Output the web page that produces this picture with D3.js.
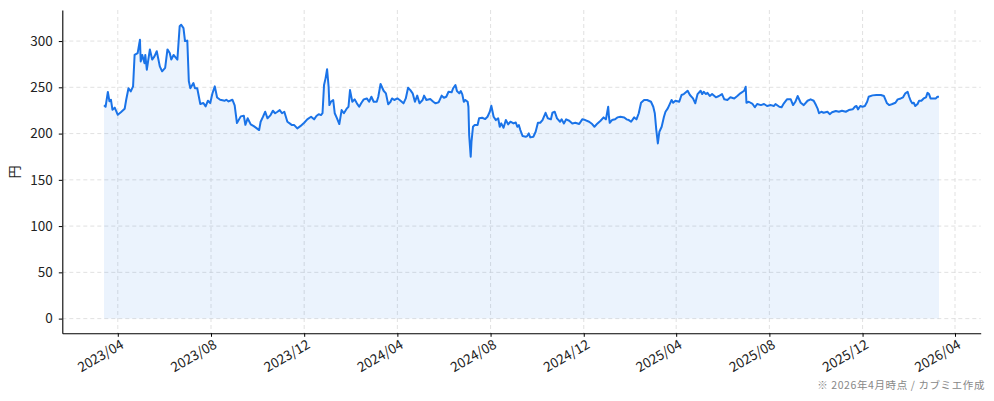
<!DOCTYPE html>
<html>
<head>
<meta charset="utf-8">
<script src="https://cdn.jsdelivr.net/npm/d3@7"></script>
<style>
  body { margin: 0; background: #fff; }
  svg { display: block; font-family: "Noto Sans CJK JP", "Noto Sans", sans-serif; }
</style>
</head>
<body>
<svg id="chart"></svg>
<script>
// closing price (円)
const prices2023 = [
  ['2023-03-14', 230.5], ['2023-03-16', 229], ['2023-03-19', 245], ['2023-03-21', 235], ['2023-03-23', 236.6],
  ['2023-03-25', 225.8], ['2023-03-28', 228], ['2023-04-01', 220.3], ['2023-04-05', 223], ['2023-04-10', 226.8],
  ['2023-04-12', 236.6], ['2023-04-15', 249], ['2023-04-18', 245.6], ['2023-04-21', 251], ['2023-04-23', 285],
  ['2023-04-27', 287], ['2023-04-30', 301.5], ['2023-05-01', 278], ['2023-05-03', 285], ['2023-05-06', 276],
  ['2023-05-07', 285], ['2023-05-09', 269], ['2023-05-13', 291], ['2023-05-16', 280], ['2023-05-19', 283.5],
  ['2023-05-22', 289], ['2023-05-26', 272.7], ['2023-05-29', 267.3], ['2023-06-02', 271], ['2023-06-05', 291],
  ['2023-06-08', 287], ['2023-06-10', 280], ['2023-06-13', 285], ['2023-06-18', 280], ['2023-06-21', 316],
  ['2023-06-23', 317.7], ['2023-06-26', 314], ['2023-06-28', 300], ['2023-07-01', 300.5], ['2023-07-03', 256.5],
  ['2023-07-05', 249], ['2023-07-09', 254.6], ['2023-07-11', 249], ['2023-07-14', 249], ['2023-07-18', 232],
  ['2023-07-22', 233], ['2023-07-25', 229.4], ['2023-07-28', 235.5], ['2023-07-31', 233], ['2023-08-03', 243.8],
  ['2023-08-06', 251], ['2023-08-09', 239], ['2023-08-13', 236.6], ['2023-08-19', 235.5], ['2023-08-21', 236.6],
  ['2023-08-24', 234.8], ['2023-08-29', 236.6], ['2023-09-01', 230.5], ['2023-09-04', 211.4], ['2023-09-09', 218.6],
  ['2023-09-13', 219.3], ['2023-09-15', 209.5], ['2023-09-18', 216.5], ['2023-09-22', 210], ['2023-09-26', 208],
  ['2023-09-30', 205.6], ['2023-10-03', 203.8], ['2023-10-05', 212.8], ['2023-10-08', 218], ['2023-10-11', 223.6],
  ['2023-10-14', 216.5], ['2023-10-18', 220], ['2023-10-21', 224.7], ['2023-10-24', 222], ['2023-10-27', 223.6],
  ['2023-10-30', 225.4], ['2023-11-02', 222], ['2023-11-05', 223.6], ['2023-11-09', 212.8], ['2023-11-12', 211],
  ['2023-11-15', 209.2], ['2023-11-18', 209.2], ['2023-11-22', 205.6], ['2023-11-26', 208], ['2023-12-01', 211.7],
  ['2023-12-05', 215.4], ['2023-12-10', 218.2], ['2023-12-14', 215.4], ['2023-12-17', 219], ['2023-12-20', 221],
  ['2023-12-23', 220], ['2023-12-25', 222], ['2023-12-27', 252.5], ['2023-12-29', 259.7], ['2023-12-31', 269.5]
];
const prices2024 = [
  ['2024-01-02', 250.6], ['2024-01-03', 230.8], ['2024-01-05', 234.4], ['2024-01-08', 236.3], ['2024-01-10', 222],
  ['2024-01-13', 216.5], ['2024-01-16', 210.3], ['2024-01-19', 225.4], ['2024-01-22', 222], ['2024-01-26', 227.3],
  ['2024-01-28', 229], ['2024-01-30', 247], ['2024-02-02', 234.4], ['2024-02-05', 237], ['2024-02-08', 232.7],
  ['2024-02-11', 229], ['2024-02-14', 233.3], ['2024-02-17', 237], ['2024-02-21', 238], ['2024-02-24', 234.4],
  ['2024-02-27', 239.8], ['2024-03-01', 234.4], ['2024-03-05', 234.4], ['2024-03-07', 239.8], ['2024-03-10', 253.6],
  ['2024-03-14', 246.3], ['2024-03-17', 243.5], ['2024-03-20', 231.6], ['2024-03-23', 234.4], ['2024-03-25', 238],
  ['2024-03-28', 236.3], ['2024-04-01', 238], ['2024-04-04', 236.3], ['2024-04-09', 232.7], ['2024-04-12', 238],
  ['2024-04-15', 249.6], ['2024-04-18', 247], ['2024-04-21', 243.5], ['2024-04-24', 234.4], ['2024-04-27', 241],
  ['2024-04-30', 232.7], ['2024-05-04', 236.3], ['2024-05-06', 241], ['2024-05-09', 236.3], ['2024-05-14', 237.3],
  ['2024-05-18', 234.4], ['2024-05-21', 232.7], ['2024-05-25', 233.8], ['2024-05-29', 241], ['2024-06-01', 238.7],
  ['2024-06-04', 239.8], ['2024-06-07', 245.2], ['2024-06-11', 244.6], ['2024-06-13', 249], ['2024-06-16', 252.5],
  ['2024-06-18', 246], ['2024-06-21', 243.5], ['2024-06-23', 246], ['2024-06-25', 242.4], ['2024-06-27', 234.4],
  ['2024-06-29', 236.3], ['2024-07-02', 234.4], ['2024-07-03', 229], ['2024-07-04', 198.4], ['2024-07-06', 175],
  ['2024-07-07', 191], ['2024-07-09', 207.4], ['2024-07-11', 209.2], ['2024-07-15', 209.2], ['2024-07-17', 216.5],
  ['2024-07-21', 217.1], ['2024-07-25', 215.7], ['2024-07-28', 218.2], ['2024-07-31', 223.6], ['2024-08-02', 230],
  ['2024-08-05', 218.2], ['2024-08-08', 214.6], ['2024-08-11', 216.5], ['2024-08-13', 207.4], ['2024-08-15', 211],
  ['2024-08-18', 206.3], ['2024-08-21', 214.6], ['2024-08-24', 210], ['2024-08-27', 212.8], ['2024-08-31', 211],
  ['2024-09-03', 212], ['2024-09-05', 207.4], ['2024-09-07', 209.2], ['2024-09-09', 203.8], ['2024-09-12', 197.3],
  ['2024-09-16', 196.6], ['2024-09-18', 197.3], ['2024-09-20', 200.2], ['2024-09-22', 195.9], ['2024-09-26', 196.6],
  ['2024-09-29', 202], ['2024-10-02', 211.7], ['2024-10-05', 211.7], ['2024-10-08', 214.6], ['2024-10-12', 222.5],
  ['2024-10-15', 216.5], ['2024-10-19', 215.4], ['2024-10-21', 222.5], ['2024-10-24', 223.6], ['2024-10-27', 216.5],
  ['2024-10-31', 212.8], ['2024-11-02', 215.4], ['2024-11-05', 211], ['2024-11-08', 215.4], ['2024-11-12', 213.9],
  ['2024-11-16', 211], ['2024-11-20', 211.7], ['2024-11-25', 210.3], ['2024-11-29', 215.4], ['2024-12-03', 214.6],
  ['2024-12-08', 212.8], ['2024-12-12', 210.3], ['2024-12-15', 207.4], ['2024-12-19', 211], ['2024-12-23', 213.9],
  ['2024-12-27', 217.5], ['2024-12-30', 215.4]
];
const prices2025 = [
  ['2025-01-02', 229], ['2025-01-03', 218.2], ['2025-01-04', 211.7], ['2025-01-07', 214.6], ['2025-01-11', 215.4],
  ['2025-01-14', 217.5], ['2025-01-18', 218.2], ['2025-01-23', 217.5], ['2025-01-26', 215.4], ['2025-01-29', 214.6],
  ['2025-02-01', 212.8], ['2025-02-05', 217.5], ['2025-02-08', 215.4], ['2025-02-11', 222], ['2025-02-14', 233.3],
  ['2025-02-18', 236.3], ['2025-02-22', 236.3], ['2025-02-27', 234.4], ['2025-03-02', 229], ['2025-03-04', 222],
  ['2025-03-06', 203.8], ['2025-03-08', 189.4], ['2025-03-10', 202], ['2025-03-13', 207.4], ['2025-03-16', 218.2],
  ['2025-03-18', 223.6], ['2025-03-21', 227.3], ['2025-03-24', 232.7], ['2025-03-26', 236.3], ['2025-03-28', 233.3],
  ['2025-03-31', 235.5], ['2025-04-05', 234.4], ['2025-04-08', 241.7], ['2025-04-11', 242.7], ['2025-04-16', 246.3],
  ['2025-04-19', 241.7], ['2025-04-23', 238], ['2025-04-26', 232.7], ['2025-04-29', 242.7], ['2025-05-03', 246.3],
  ['2025-05-05', 242.7], ['2025-05-07', 245.2], ['2025-05-10', 242.7], ['2025-05-12', 244], ['2025-05-15', 240.6],
  ['2025-05-18', 242.7], ['2025-05-23', 239.2], ['2025-05-27', 240.6], ['2025-05-31', 242.7], ['2025-06-03', 237],
  ['2025-06-07', 236.3], ['2025-06-11', 239.2], ['2025-06-16', 238], ['2025-06-20', 240.6], ['2025-06-24', 243.5],
  ['2025-06-29', 246.3], ['2025-07-01', 250.6], ['2025-07-02', 233.3], ['2025-07-05', 234.4], ['2025-07-10', 232],
  ['2025-07-13', 228.4], ['2025-07-16', 232], ['2025-07-21', 230.8], ['2025-07-25', 232], ['2025-07-29', 229.8],
  ['2025-08-03', 230.8], ['2025-08-07', 229.8], ['2025-08-09', 232], ['2025-08-14', 229], ['2025-08-17', 228.4],
  ['2025-08-20', 232.7], ['2025-08-24', 237], ['2025-08-29', 237], ['2025-09-01', 230.8], ['2025-09-04', 234.4],
  ['2025-09-07', 240.6], ['2025-09-11', 233.3], ['2025-09-15', 230.8], ['2025-09-20', 235.5], ['2025-09-24', 237],
  ['2025-09-28', 235.5], ['2025-10-01', 230.8], ['2025-10-03', 227.3], ['2025-10-05', 222], ['2025-10-08', 223.6],
  ['2025-10-11', 222.5], ['2025-10-16', 223.6], ['2025-10-19', 221], ['2025-10-22', 223], ['2025-10-27', 224.4],
  ['2025-10-31', 223.6], ['2025-11-04', 224.7], ['2025-11-09', 223.6], ['2025-11-13', 225.4], ['2025-11-18', 226.2],
  ['2025-11-21', 229], ['2025-11-23', 229.8], ['2025-11-25', 226.2], ['2025-11-28', 229.8], ['2025-12-01', 229],
  ['2025-12-04', 229.8], ['2025-12-07', 234.4], ['2025-12-09', 239.8], ['2025-12-14', 241.3], ['2025-12-19', 241.7],
  ['2025-12-25', 241.7], ['2025-12-29', 240.6]
];
const prices2026 = [
  ['2026-01-02', 232.7], ['2026-01-05', 230.8], ['2026-01-09', 232], ['2026-01-13', 233.3], ['2026-01-16', 237],
  ['2026-01-20', 238], ['2026-01-23', 239.2], ['2026-01-26', 243.5], ['2026-01-29', 245.2], ['2026-01-31', 239.8],
  ['2026-02-02', 235.5], ['2026-02-04', 232.7], ['2026-02-06', 233.3], ['2026-02-08', 229.8], ['2026-02-11', 232],
  ['2026-02-13', 235.5], ['2026-02-16', 235.5], ['2026-02-19', 238], ['2026-02-22', 239.2], ['2026-02-24', 244],
  ['2026-02-26', 242.7], ['2026-02-28', 238], ['2026-03-04', 238], ['2026-03-07', 238], ['2026-03-09', 239.8],
  ['2026-03-11', 239.8]
];

const xTickDates = ['2023-04-01', '2023-08-01', '2023-12-01', '2024-04-01', '2024-08-01',
  '2024-12-01', '2025-04-01', '2025-08-01', '2025-12-01', '2026-04-01'];
const yTickValues = [0, 50, 100, 150, 200, 250, 300];
const yLabel = '円';
const footNote = '※ 2026年4月時点 / カブミエ作成';

const width = 994;
const height = 401;
const margin = { top: 10, right: 13.3, bottom: 67.7, left: 62.3 };
const lineColor = '#1a73e8';

const parseDate = d3.timeParse('%Y-%m-%d');
const data = [...prices2023, ...prices2024, ...prices2025, ...prices2026]
	.map((d) => ({ date: parseDate(d[0]), value: d[1] }));

const svg = d3.select('#chart').attr('width', width).attr('height', height);

// matplotlib style 5% padding around the data
const [t0, t1] = d3.extent(data, (d) => d.date);
const pad = (t1 - t0) * 0.05;
const x = d3.scaleTime()
	.domain([new Date(+t0 - pad), new Date(+t1 + pad)])
	.range([margin.left, width - margin.right]);

const yMax = d3.max(data, (d) => d.value);
const y = d3.scaleLinear()
	.domain([-yMax * 0.05, yMax * 1.05])
	.range([height - margin.bottom, margin.top]);

const xTicks = xTickDates.map(parseDate);

// grid
const grid = svg.append('g').attr('stroke', '#d9d9d9').attr('stroke-width', 0.8)
	.attr('stroke-dasharray', '4,3');
grid.selectAll('.vg').data(xTicks).enter().append('line')
	.attr('x1', (d) => x(d)).attr('x2', (d) => x(d))
	.attr('y1', margin.top).attr('y2', height - margin.bottom);
grid.selectAll('.hg').data(yTickValues).enter().append('line')
	.attr('y1', (d) => y(d)).attr('y2', (d) => y(d))
	.attr('x1', margin.left).attr('x2', width - margin.right);

// area + line
const area = d3.area().x((d) => x(d.date)).y0(y(0)).y1((d) => y(d.value));
svg.append('path').datum(data).attr('d', area)
	.attr('fill', lineColor).attr('fill-opacity', 0.085);

const line = d3.line().x((d) => x(d.date)).y((d) => y(d.value));
svg.append('path').datum(data).attr('d', line)
	.attr('fill', 'none').attr('stroke', lineColor).attr('stroke-width', 2)
	.attr('stroke-linejoin', 'round');

// axes
const xAxis = svg.append('g')
	.attr('transform', `translate(0,${height - margin.bottom})`)
	.call(d3.axisBottom(x).tickValues(xTicks).tickFormat(d3.timeFormat('%Y/%m'))
		.tickSize(3.5).tickSizeOuter(0));
xAxis.selectAll('text')
	.attr('text-anchor', 'end')
	.attr('transform', 'translate(0,3) rotate(-30)')
	.attr('dy', '0.72em').attr('y', 3).attr('x', 0);

const yAxis = svg.append('g')
	.attr('transform', `translate(${margin.left},0)`)
	.call(d3.axisLeft(y).tickValues(yTickValues).tickSize(3.5).tickPadding(6).tickSizeOuter(0));

[xAxis, yAxis].forEach((g) => {
	g.select('.domain').attr('stroke', '#000').attr('stroke-width', 1.1);
	g.selectAll('.tick line').attr('stroke', '#000').attr('stroke-width', 1);
	g.selectAll('.tick text').attr('fill', '#222')
		.style('font-size', '13.5px')
		.style('font-family', '"Noto Sans CJK JP", sans-serif');
});

svg.append('text')
	.attr('transform', 'translate(19,172) rotate(-90)')
	.attr('text-anchor', 'middle')
	.style('font-size', '13px').attr('fill', '#222')
	.text(yLabel);

svg.append('text')
	.attr('x', 985).attr('y', 389)
	.attr('text-anchor', 'end')
	.style('font-size', '10.5px').attr('fill', '#888')
	.attr('letter-spacing', 0.6)
	.text(footNote);
</script>
</body>
</html>
